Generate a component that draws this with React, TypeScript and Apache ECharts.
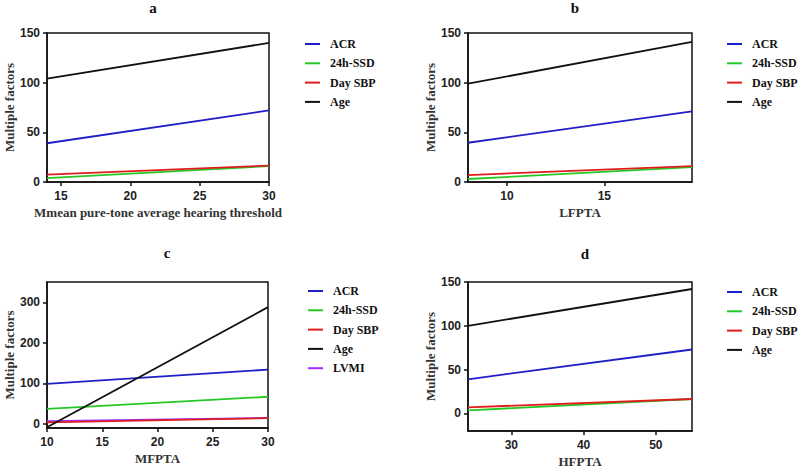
import React, { useEffect, useRef } from "react";
import * as echarts from "echarts";

// ---- data ----
const panelTitles = ["a", "b", "c", "d"];
const xAxisNames = ["Mmean pure-tone average hearing threshold", "LFPTA", "MFPTA", "HFPTA"];
const yAxisName = "Multiple factors";

const legendA = ["ACR", "24h-SSD", "Day SBP", "Age"];
const legendC = ["ACR", "24h-SSD", "Day SBP", "Age", "LVMI"];

// Panel a
const aX = [14, 30];
const aACR = [39, 72];
const aSSD = [4, 16];
const aSBP = [7.5, 16.5];
const aAge = [104, 140];
const aXTicks = [15, 20, 25, 30];
const aYTicks = [0, 50, 100, 150];

// Panel b
const bX = [8, 19.5];
const bACR = [39.5, 71];
const bSSD = [3, 15];
const bSBP = [7, 16];
const bAge = [99, 141];
const bXTicks = [10, 15];
const bYTicks = [0, 50, 100, 150];

// Panel c
const cX = [10, 30];
const cACR = [99, 134];
const cSSD = [37, 67];
const cSBP = [4, 14.5];
const cAge = [-8, 288];
const cLVMI = [7, 15];
const cXTicks = [10, 15, 20, 25, 30];
const cYTicks = [0, 100, 200, 300];

// Panel d
const dX = [24, 55];
const dACR = [39, 73];
const dSSD = [3.5, 16.5];
const dSBP = [7, 16.5];
const dAge = [100, 142];
const dXTicks = [30, 40, 50];
const dYTicks = [0, 50, 100, 150];

const colors: Record<string, string> = {
  ACR: "#1f1fc8",
  "24h-SSD": "#25c825",
  "Day SBP": "#e01c1c",
  Age: "#111111",
  LVMI: "#9b30ff",
};

export default function App() {
  const ref = useRef<HTMLDivElement>(null);
  useEffect(() => {
    document.body.style.margin = "0";
    if (!ref.current) return;
    const chart = echarts.init(ref.current, null, { renderer: "svg" });

    const grids = [
      { left: 47, top: 33, width: 222, height: 149 },
      { left: 468, top: 33, width: 224, height: 149 },
      { left: 47, top: 282, width: 221, height: 146 },
      { left: 468, top: 282, width: 224, height: 149 },
    ];
    const xRanges = [
      [14, 30],
      [8, 19.5],
      [10, 30],
      [24, 55],
    ];
    const yRanges = [
      [0, 150],
      [0, 150],
      [-10, 350],
      [-20, 150],
    ];
    const xTicks = [aXTicks, bXTicks, cXTicks, dXTicks];
    const yTicks = [aYTicks, bYTicks, cYTicks, dYTicks];

    const panels = [
      { x: aX, s: { ACR: aACR, "24h-SSD": aSSD, "Day SBP": aSBP, Age: aAge } as Record<string, number[]> },
      { x: bX, s: { ACR: bACR, "24h-SSD": bSSD, "Day SBP": bSBP, Age: bAge } as Record<string, number[]> },
      { x: cX, s: { LVMI: cLVMI, ACR: cACR, "24h-SSD": cSSD, "Day SBP": cSBP, Age: cAge } as Record<string, number[]> },
      { x: dX, s: { ACR: dACR, "24h-SSD": dSSD, "Day SBP": dSBP, Age: dAge } as Record<string, number[]> },
    ];

    const axisCol = "#111";
    const tickFont = { fontFamily: "Liberation Sans", fontWeight: "bold" as const, fontSize: 12, color: "#222" };
    const nameFont = { fontFamily: "Liberation Serif", fontWeight: "bold" as const, fontSize: 13, color: "#333" };

    const xAxis = grids.map((_, i) => ({
      type: "value",
      gridIndex: i,
      min: xRanges[i][0],
      max: xRanges[i][1],
      axisLine: { show: true, onZero: false, lineStyle: { color: axisCol, width: 1.5 } },
      axisTick: { show: true, length: 4, customValues: xTicks[i], lineStyle: { color: axisCol, width: 1.5 } },
      axisLabel: { ...tickFont, margin: 8, customValues: xTicks[i] },
      splitLine: { show: false },
      name: xAxisNames[i],
      nameLocation: "middle",
      nameGap: 24,
      nameTextStyle: nameFont,
    }));
    const yAxis = grids.map((_, i) => ({
      type: "value",
      gridIndex: i,
      min: yRanges[i][0],
      max: yRanges[i][1],
      axisLine: { show: true, onZero: false, lineStyle: { color: axisCol, width: 1.5 } },
      axisTick: { show: true, length: 4, customValues: yTicks[i], lineStyle: { color: axisCol, width: 1.5 } },
      axisLabel: { ...tickFont, margin: 7, customValues: yTicks[i] },
      splitLine: { show: false },
      name: yAxisName,
      nameLocation: "middle",
      nameGap: 26,
      nameTextStyle: nameFont,
    }));

    const series: any[] = [];
    panels.forEach((p, i) => {
      Object.keys(p.s).forEach((name) => {
        const ys = p.s[name];
        series.push({
          type: "line",
          name,
          xAxisIndex: i,
          yAxisIndex: i,
          data: p.x.map((x, k) => [x, ys[k]]),
          showSymbol: false,
          symbol: "none",
          lineStyle: { color: colors[name], width: 1.8 },
          itemStyle: { color: colors[name] },
          clip: true,
        });
      });
    });

    const legendPos = [
      { left: 305, top: 37, data: legendA },
      { left: 727, top: 37, data: legendA },
      { left: 308, top: 284, data: legendC },
      { left: 727, top: 285, data: legendA },
    ];
    const legend = legendPos.map((l) => ({
      orient: "vertical",
      left: l.left,
      top: l.top,
      padding: 0,
      data: l.data,
      icon: "rect",
      itemWidth: 15,
      itemHeight: 2,
      itemGap: 5.3,
      selectedMode: false,
      textStyle: {
        fontFamily: "Liberation Serif",
        fontWeight: "bold",
        fontSize: 12,
        color: "#111",
        lineHeight: 14,
        padding: [0, 0, 0, 5],
      },
    }));

    const titlePos = [
      [153, 8],
      [575, 8],
      [167, 253],
      [585, 254],
    ];
    const graphic = panelTitles.map((t, i) => ({
      type: "text",
      x: titlePos[i][0],
      y: titlePos[i][1],
      style: {
        text: t,
        font: 'bold 15px "Liberation Serif"',
        fill: "#111",
        textAlign: "center",
        textVerticalAlign: "middle",
        verticalAlign: "middle",
      },
    }));

    chart.setOption({
      animation: false,
      backgroundColor: "#fff",
      grid: grids.map((g) => ({ ...g, show: true, borderColor: axisCol, borderWidth: 1.5, backgroundColor: "transparent" })),
      xAxis,
      yAxis,
      series,
      legend,
      graphic,
    });
    return () => chart.dispose();
  }, []);
  return <div ref={ref} style={{ width: 799, height: 471 }} />;
}
